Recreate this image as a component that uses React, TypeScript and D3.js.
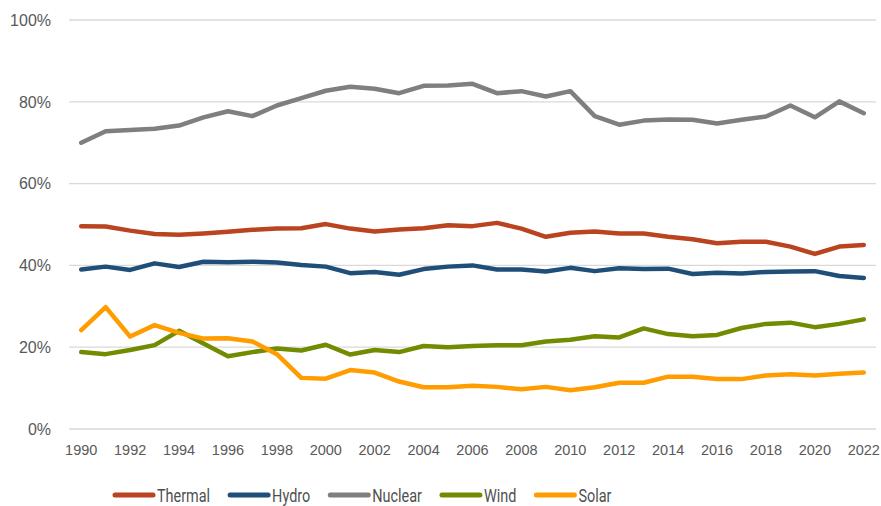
import React, { useEffect, useRef } from "react";
import * as d3 from "d3";

const years: number[] = [
  1990, 1991, 1992, 1993, 1994, 1995, 1996, 1997, 1998, 1999, 2000, 2001, 2002, 2003, 2004, 2005, 2006,
  2007, 2008, 2009, 2010, 2011, 2012, 2013, 2014, 2015, 2016, 2017, 2018, 2019, 2020, 2021, 2022,
];

const thermal: number[] = [
  49.6, 49.5, 48.5, 47.7, 47.5, 47.8, 48.2, 48.7, 49.0, 49.1, 50.1, 49.0, 48.3, 48.8, 49.1, 49.8, 49.6,
  50.4, 49.0, 47.0, 48.0, 48.3, 47.8, 47.8, 47.0, 46.4, 45.4, 45.8, 45.8, 44.6, 42.8, 44.6, 45.0,
];
const hydro: number[] = [
  39.0, 39.7, 38.9, 40.5, 39.6, 40.9, 40.8, 40.9, 40.7, 40.1, 39.7, 38.1, 38.4, 37.7, 39.1, 39.7, 40.0,
  39.0, 39.0, 38.5, 39.4, 38.6, 39.3, 39.1, 39.2, 37.9, 38.2, 38.0, 38.4, 38.5, 38.6, 37.4, 36.9,
];
const nuclear: number[] = [
  70.0, 72.8, 73.1, 73.4, 74.2, 76.2, 77.7, 76.5, 79.1, 80.9, 82.7, 83.7, 83.2, 82.1, 83.9, 84.0, 84.4,
  82.1, 82.6, 81.3, 82.6, 76.5, 74.4, 75.4, 75.7, 75.6, 74.7, 75.6, 76.4, 79.1, 76.2, 80.1, 77.2,
];
const wind: number[] = [
  18.8, 18.3, 19.3, 20.5, 24.0, 20.9, 17.8, 18.8, 19.7, 19.2, 20.6, 18.2, 19.3, 18.8, 20.3, 20.0, 20.3,
  20.5, 20.5, 21.4, 21.8, 22.7, 22.4, 24.6, 23.2, 22.7, 23.0, 24.7, 25.7, 26.0, 24.9, 25.7, 26.8,
];
const solar: number[] = [
  24.2, 29.8, 22.6, 25.4, 23.5, 22.1, 22.2, 21.4, 18.3, 12.5, 12.3, 14.4, 13.8, 11.6, 10.2, 10.2, 10.6,
  10.3, 9.7, 10.3, 9.5, 10.2, 11.3, 11.3, 12.8, 12.8, 12.2, 12.2, 13.1, 13.4, 13.1, 13.5, 13.8,
];

const seriesNames: string[] = ["Thermal", "Hydro", "Nuclear", "Wind", "Solar"];
const seriesValues: number[][] = [thermal, hydro, nuclear, wind, solar];
const seriesColors: string[] = ["#B9441F", "#1F4E79", "#7F7F7F", "#718C00", "#FF9C00"];
const yTicks: number[] = [0, 20, 40, 60, 80, 100];
const xTickYears: number[] = years.filter((y) => (y - 1990) % 2 === 0);

const W = 881;
const H = 506;
const plot = { left: 69, right: 876, top: 20, bottom: 429 };

export default function App() {
  const legendRef = useRef<SVGGElement | null>(null);

  const x = d3
    .scalePoint<number>()
    .domain(years)
    .range([plot.left, plot.right])
    .padding(0.5);
  const y = d3.scaleLinear().domain([0, 100]).range([plot.bottom, plot.top]);

  const line = d3
    .line<number>()
    .x((_, i) => x(years[i]) as number)
    .y((d) => y(d));

  useEffect(() => {
    const g = d3.select(legendRef.current);
    g.selectAll("*").remove();
    let cx = 113;
    const cy = 495;
    const sx = 0.76;
    seriesNames.forEach((name, i) => {
      g.append("line")
        .attr("x1", cx + 2)
        .attr("x2", cx + 40)
        .attr("y1", cy)
        .attr("y2", cy)
        .attr("stroke", seriesColors[i])
        .attr("stroke-width", 5)
        .attr("stroke-linecap", "round");
      const t = g
        .append("text")
        .attr("transform", `translate(${cx + 44},${cy + 6.5}) scale(${sx},1)`)
        .attr("font-family", "Roboto, 'Liberation Sans', sans-serif")
        .attr("font-size", 19)
        .attr("fill", "#505050")
        .text(name);
      const w = (t.node() as SVGTextElement).getComputedTextLength() * sx;
      cx = cx + 44 + w + 18;
    });
  }, []);

  return (
    <svg
      width={W}
      height={H}
      style={{ position: "absolute", left: 0, top: 0, background: "#fff" }}
    >
      <g>
        {yTicks.map((t) => (
          <line
            key={"g" + t}
            x1={plot.left}
            x2={plot.right}
            y1={y(t)}
            y2={y(t)}
            stroke="#D9D9D9"
            strokeWidth={1.3}
          />
        ))}
      </g>
      <g>
        {yTicks.map((t) => (
          <text
            key={"yl" + t}
            x={51}
            y={y(t)}
            dy="0.36em"
            textAnchor="end"
            fontFamily="'Liberation Sans', Arial, sans-serif"
            fontSize={16}
            fill="#595959"
          >
            {t + "%"}
          </text>
        ))}
      </g>
      <g>
        {xTickYears.map((yr) => (
          <text
            key={"xl" + yr}
            x={x(yr) as number}
            y={455}
            textAnchor="middle"
            fontFamily="'Liberation Sans', Arial, sans-serif"
            fontSize={14.5}
            fill="#595959"
          >
            {yr}
          </text>
        ))}
      </g>
      <g>
        {seriesValues.map((vals, i) => (
          <path
            key={seriesNames[i]}
            d={line(vals) || ""}
            fill="none"
            stroke={seriesColors[i]}
            strokeWidth={4.5}
            strokeLinejoin="round"
            strokeLinecap="round"
          />
        ))}
      </g>
      <g ref={legendRef} />
    </svg>
  );
}
